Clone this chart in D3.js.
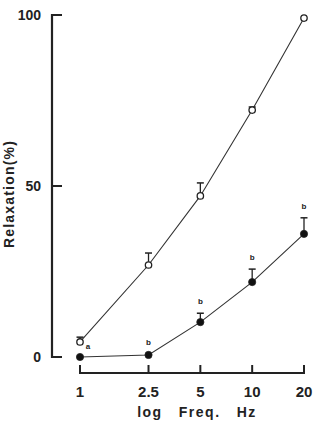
<!DOCTYPE html>
<html>
<head>
<meta charset="utf-8">
<script src="https://cdn.jsdelivr.net/npm/d3@7"></script>
<style>
  body { margin: 0; background: #fff; }
  text { font-family: "Liberation Sans", Arial, sans-serif; fill: #222; }
</style>
</head>
<body>
<div id="chart"></div>
<script>
var freqs = [1, 2.5, 5, 10, 20];
var openVals = [4.4, 26.9, 47.1, 72.2, 99.1];
var openSem = [1.4, 3.5, 3.8, 0.9, 0];
var filledVals = [0, 0.6, 10.2, 21.9, 36.0];
var filledSem = [0, 0, 2.6, 3.8, 4.7];
var filledSig = ["a", "b", "b", "b", "b"];
var yTicks = [0, 50, 100];
var xTickLabels = ["1", "2.5", "5", "10", "20"];

var width = 334, height = 427;

var svg = d3.select("#chart")
    .append("svg")
    .attr("width", width)
    .attr("height", height);

// scales
var x = d3.scaleLog()
    .domain([1, 20])
    .range([80, 304]);

var y = d3.scaleLinear()
    .domain([0, 100])
    .range([357, 15]);

// y axis (drawn by hand to get the old-style look)
var yAxis = svg.append("g");
yAxis.append("line")
    .attr("x1", 52).attr("x2", 52)
    .attr("y1", y(100) - 1).attr("y2", y(0) + 1)
    .attr("stroke", "#222").attr("stroke-width", 2.2);
yAxis.selectAll(".ytick")
    .data(yTicks)
    .enter()
    .append("line")
    .attr("x1", 52).attr("x2", 62)
    .attr("y1", d => y(d)).attr("y2", d => y(d))
    .attr("stroke", "#222").attr("stroke-width", 2);
yAxis.selectAll(".ylab")
    .data(yTicks)
    .enter()
    .append("text")
    .attr("x", 41)
    .attr("y", d => y(d))
    .attr("dy", "0.36em")
    .attr("text-anchor", "end")
    .style("font-size", "14px")
    .style("font-weight", "bold")
    .text(d => d);

svg.append("text")
    .attr("transform", "translate(14,194) rotate(-90)")
    .attr("text-anchor", "middle")
    .style("font-size", "14px")
    .style("font-weight", "bold")
    .style("letter-spacing", "1.2px")
    .text("Relaxation(%)");

// x axis
var xAxis = svg.append("g");
xAxis.append("line")
    .attr("x1", x(1) - 1).attr("x2", x(20) + 1)
    .attr("y1", 373).attr("y2", 373)
    .attr("stroke", "#222").attr("stroke-width", 2.2);
xAxis.selectAll(".xtick")
    .data(freqs)
    .enter()
    .append("line")
    .attr("x1", d => x(d)).attr("x2", d => x(d))
    .attr("y1", 373).attr("y2", 365)
    .attr("stroke", "#222").attr("stroke-width", 2);
xAxis.selectAll(".xlab")
    .data(freqs)
    .enter()
    .append("text")
    .attr("x", d => x(d))
    .attr("y", 397)
    .attr("text-anchor", "middle")
    .style("font-size", "15px")
    .style("font-weight", "bold")
    .text((d, i) => xTickLabels[i]);

svg.append("text")
    .attr("x", 197)
    .attr("y", 417)
    .attr("text-anchor", "middle")
    .style("font-size", "14px")
    .style("font-weight", "bold")
    .style("letter-spacing", "1.5px")
    .style("white-space", "pre")
    .attr("xml:space", "preserve")
    .text("log   Freq.   Hz");

var line = d3.line()
    .x(d => x(d.f))
    .y(d => y(d.v));

var openData = freqs.map((f, i) => ({ f: f, v: openVals[i], e: openSem[i] }));
var filledData = freqs.map((f, i) => ({ f: f, v: filledVals[i], e: filledSem[i], s: filledSig[i] }));

function drawSeries(data, filled) {
    var g = svg.append("g");
    g.append("path")
        .datum(data)
        .attr("d", line)
        .attr("fill", "none")
        .attr("stroke", "#333")
        .attr("stroke-width", 1.1);

    var eb = g.selectAll(".eb")
        .data(data.filter(d => d.e > 0))
        .enter();
    eb.append("line")
        .attr("x1", d => x(d.f)).attr("x2", d => x(d.f))
        .attr("y1", d => y(d.v)).attr("y2", d => y(d.v + d.e))
        .attr("stroke", "#222").attr("stroke-width", 1.3);
    eb.append("line")
        .attr("x1", d => x(d.f) - 3.5).attr("x2", d => x(d.f) + 3.5)
        .attr("y1", d => y(d.v + d.e)).attr("y2", d => y(d.v + d.e))
        .attr("stroke", "#222").attr("stroke-width", 1.5);

    g.selectAll(".pt")
        .data(data)
        .enter()
        .append("circle")
        .attr("cx", d => x(d.f))
        .attr("cy", d => y(d.v))
        .attr("r", filled ? 3.6 : 3.2)
        .attr("fill", filled ? "#111" : "#fff")
        .attr("stroke", "#222")
        .attr("stroke-width", filled ? 0.8 : 1.3);
}

drawSeries(openData, false);
drawSeries(filledData, true);

// significance letters
svg.selectAll(".sig")
    .data(filledData)
    .enter()
    .append("text")
    .attr("x", d => d.s == "a" ? x(d.f) + 8 : x(d.f))
    .attr("y", d => d.s == "a" ? y(d.v) - 8 : y(d.v + d.e) - (d.e > 0 ? 9 : 10))
    .attr("text-anchor", "middle")
    .style("font-size", "8px")
    .style("font-weight", "bold")
    .text(d => d.s);
</script>
</body>
</html>
